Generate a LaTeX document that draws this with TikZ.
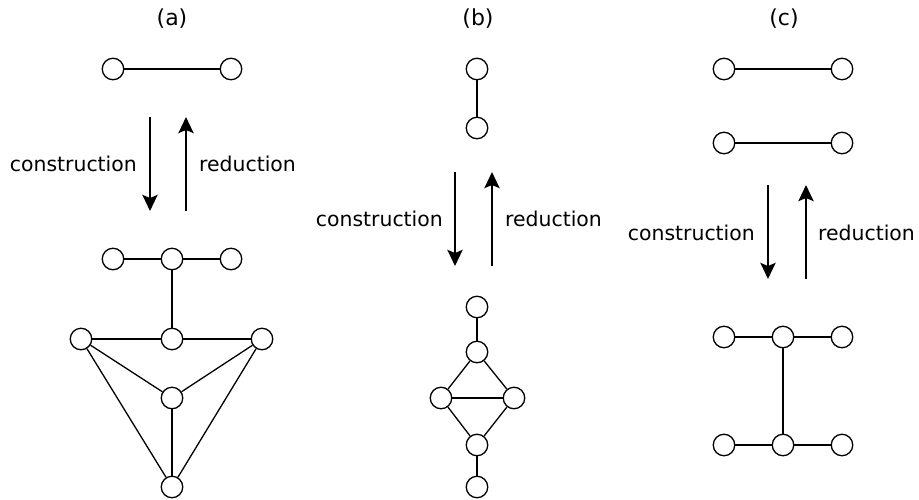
\documentclass[tikz,border=0pt]{standalone}
\usepackage{fontspec}
\setmainfont{DejaVu Sans}
\usetikzlibrary{arrows.meta}
\begin{document}
\begin{tikzpicture}[x=1pt,y=-1pt,
  vtx/.style={circle,draw,line width=1.3pt,minimum size=21.5pt,inner sep=0pt,fill=white},
  edge/.style={line width=1.3pt},
  bigarrow/.style={line width=2.8pt,-{Stealth[length=16pt,width=15pt,inset=3pt]}},
  lbl/.style={font=\fontsize{20.4}{24}\selectfont,inner sep=0pt},
  ttl/.style={font=\fontsize{22}{26}\selectfont,inner sep=0pt}]
\useasboundingbox (0,0) rectangle (919,499);
% titles
\node[ttl] (ta) at (172,18.5) {(a)};
\node[ttl] (tb) at (478,18.5) {(b)};
\node[ttl] (tc) at (784,18.5) {(c)};
% ---------- panel (a)
\node[vtx] (a1) at (113,69) {};
\node[vtx] (a2) at (231,69) {};
\draw[edge] (a1) -- (a2);
\coordinate (ad1) at (150,117); \coordinate (ad2) at (150,211);
\coordinate (au1) at (186,211); \coordinate (au2) at (186,117);
\draw[bigarrow] (ad1) -- (ad2);
\draw[bigarrow] (au1) -- (au2);
\node[lbl,anchor=east] (acon) at (137,164) {construction};
\node[lbl,anchor=west] (ared) at (199,164) {reduction};
\node[vtx] (b1) at (113,259) {};
\node[vtx] (b2) at (172,259) {};
\node[vtx] (b3) at (231,259) {};
\node[vtx] (b4) at (81,339) {};
\node[vtx] (b5) at (172,339) {};
\node[vtx] (b6) at (262,339) {};
\node[vtx] (b7) at (172,398) {};
\node[vtx] (b8) at (172,487) {};
\draw[edge] (b1) -- (b2) -- (b3);
\draw[edge] (b2) -- (b5);
\draw[edge] (b4) -- (b5) -- (b6);
\draw[edge] (b4) -- (b7) -- (b6);
\draw[edge] (b4) -- (b8) -- (b6);
\draw[edge] (b7) -- (b8);
% ---------- panel (b)
\node[vtx] (c1) at (477,69) {};
\node[vtx] (c2) at (477,128) {};
\draw[edge] (c1) -- (c2);
\coordinate (bd1) at (455,172); \coordinate (bd2) at (455,266);
\coordinate (bu1) at (492,266); \coordinate (bu2) at (492,172);
\draw[bigarrow] (bd1) -- (bd2);
\draw[bigarrow] (bu1) -- (bu2);
\node[lbl,anchor=east] (bcon) at (443,219) {construction};
\node[lbl,anchor=west] (bred) at (505,219) {reduction};
\node[vtx] (d1) at (477,307) {};
\node[vtx] (d2) at (477,352) {};
\node[vtx] (d3) at (441,398) {};
\node[vtx] (d4) at (514,398) {};
\node[vtx] (d5) at (477,445) {};
\node[vtx] (d6) at (477,487) {};
\draw[edge] (d1) -- (d2);
\draw[edge] (d3) -- (d2) -- (d4);
\draw[edge] (d3) -- (d4);
\draw[edge] (d3) -- (d5) -- (d4);
\draw[edge] (d5) -- (d6);
% ---------- panel (c)
\node[vtx] (e1) at (724,69) {};
\node[vtx] (e2) at (842,69) {};
\node[vtx] (e3) at (724,143) {};
\node[vtx] (e4) at (842,143) {};
\draw[edge] (e1) -- (e2);
\draw[edge] (e3) -- (e4);
\coordinate (cd1) at (768,185); \coordinate (cd2) at (768,279);
\coordinate (cu1) at (806,279); \coordinate (cu2) at (806,185);
\draw[bigarrow] (cd1) -- (cd2);
\draw[bigarrow] (cu1) -- (cu2);
\node[lbl,anchor=east] (ccon) at (755,233) {construction};
\node[lbl,anchor=west] (cred) at (818,233) {reduction};
\node[vtx] (f1) at (724,337) {};
\node[vtx] (f2) at (783,337) {};
\node[vtx] (f3) at (842,337) {};
\node[vtx] (f4) at (724,445) {};
\node[vtx] (f5) at (783,445) {};
\node[vtx] (f6) at (842,445) {};
\draw[edge] (f1) -- (f2) -- (f3);
\draw[edge] (f4) -- (f5) -- (f6);
\draw[edge] (f2) -- (f5);
\end{tikzpicture}
\end{document}
